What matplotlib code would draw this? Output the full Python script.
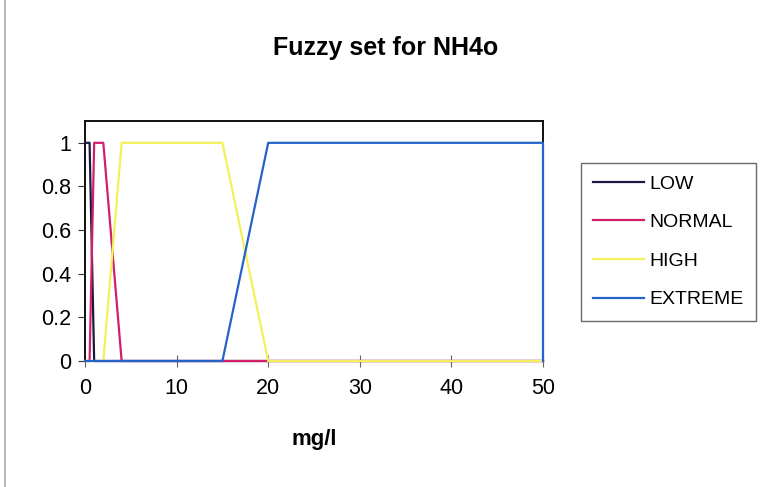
import matplotlib
matplotlib.use("Agg")
import matplotlib.pyplot as plt

plt.rcParams['font.family'] = ['Liberation Sans', 'DejaVu Sans']

# membership functions for NH4o (mg/l)
low_x = [0, 0.5, 1, 50]
low_y = [1, 1, 0, 0]

normal_x = [0, 0.5, 1, 2, 4, 50]
normal_y = [0, 0, 1, 1, 0, 0]

high_x = [0, 2, 4, 15, 20, 50]
high_y = [0, 0, 1, 1, 0, 0]

extreme_x = [0, 15, 20, 50, 50]
extreme_y = [0, 0, 1, 1, 0]

x_ticks = [0, 10, 20, 30, 40, 50]
y_ticks = [0, 0.2, 0.4, 0.6, 0.8, 1]
y_tick_labels = ['0', '0.2', '0.4', '0.6', '0.8', '1']

fig = plt.figure(figsize=(7.6, 4.87), dpi=100)
ax = fig.add_axes([85 / 760, 126 / 487, 458 / 760, 240 / 487])

lw = 1.6
kw = dict(lw=lw, zorder=3, clip_on=False)
ax.plot(low_x, low_y, color='#1b1840', label='LOW', **kw)
ax.plot(normal_x, normal_y, color='#d21f6c', label='NORMAL', **kw)
ax.plot(high_x, high_y, color='#f4ef5a', label='HIGH', **kw)
ax.plot(extreme_x, extreme_y, color='#2563c8', label='EXTREME', **kw)

ax.set_xlim(0, 50)
ax.set_ylim(0, 1.1)
ax.set_xticks(x_ticks)
ax.set_yticks(y_ticks)
ax.set_yticklabels(y_tick_labels)
ax.tick_params(axis='x', direction='inout', length=8, labelsize=15.5, pad=8, color='#666666')
ax.tick_params(axis='y', direction='out', length=5, labelsize=15.5, pad=5, color='#333333')

for side in ['top', 'right', 'left', 'bottom']:
    ax.spines[side].set_color('#111111')
    ax.spines[side].set_linewidth(1.4)
    ax.spines[side].set_zorder(2)

ax.set_xlabel('mg/l', fontsize=16, fontweight='bold', labelpad=22)
fig.text(386 / 760, 1 - 48 / 487, 'Fuzzy set for NH4o', ha='center', va='center',
         fontsize=18, fontweight='bold')

leg = ax.legend(loc='upper left', bbox_to_anchor=(581 / 760, 1 - 163 / 487),
                bbox_transform=fig.transFigure, frameon=True, fancybox=False,
                fontsize=14, handlelength=2.6, handletextpad=0.3,
                labelspacing=1.08, borderpad=0.62, borderaxespad=0)
leg.get_frame().set_edgecolor('#444444')
leg.get_frame().set_linewidth(1.0)
leg.set_zorder(5)

# thin border at the left edge of the sheet
fig.add_artist(plt.Line2D([5 / 760, 5 / 760], [0, 1], transform=fig.transFigure,
                          color='#aaaaaa', lw=1.2))

fig.savefig('out.png', dpi=100)
